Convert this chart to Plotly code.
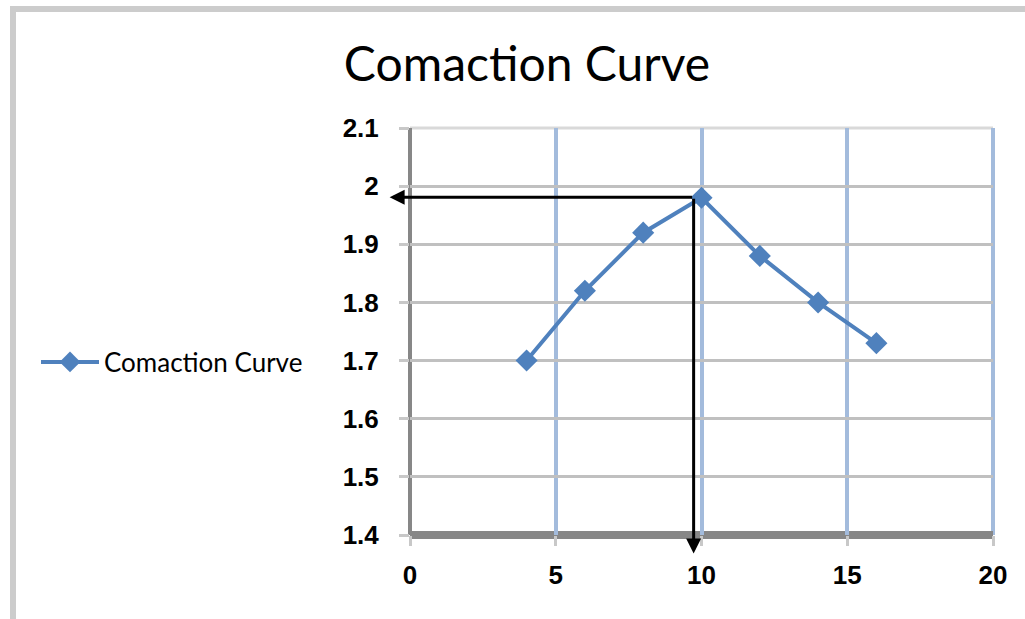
import plotly.graph_objects as go

# Compaction test results: water content (%) vs dry density
water_content = [4, 6, 8, 10, 12, 14, 16]
dry_density = [1.70, 1.82, 1.92, 1.98, 1.88, 1.80, 1.73]

# Optimum point (guide arrows)
opt_water = 9.73
max_density = 1.981

x_ticks = [0, 5, 10, 15, 20]
y_ticks = [1.4, 1.5, 1.6, 1.7, 1.8, 1.9, 2.0, 2.1]
y_tick_text = ["1.4", "1.5", "1.6", "1.7", "1.8", "1.9", "2", "2.1"]

W, H = 1025, 619
L, R, T, B = 410, 32, 128, 84
PW, PH = W - L - R, H - T - B


def px(xp):
    return (xp - L) / PW


def py(yp):
    return (H - B - yp) / PH


blue = "#4f81bd"
grid_blue = "#a3bbdc"
tick_font = dict(family="Liberation Sans", size=26, color="black", weight="bold")

fig = go.Figure()
fig.add_trace(go.Scatter(
    x=water_content, y=dry_density, mode="lines+markers",
    name="Comaction Curve",
    line=dict(color=blue, width=4),
    marker=dict(symbol="diamond", size=17, color=blue),
    cliponaxis=False,
))

# grid lines on the top and right edges of the plot area
fig.add_shape(type="line", xref="paper", yref="paper", x0=0, x1=1, y0=1, y1=1,
              line=dict(color="#d9d9d9", width=3), layer="below")
fig.add_shape(type="line", xref="paper", yref="paper", x0=1, x1=1, y0=0, y1=1,
              line=dict(color=grid_blue, width=4), layer="below")

# axis lines, centred on the plot-area edges
fig.add_shape(type="line", xref="paper", yref="paper", x0=0, x1=1, y0=0, y1=0,
              line=dict(color="#878787", width=8), layer="between")
fig.add_shape(type="line", xref="paper", yref="paper", x0=0, x1=0, y0=0, y1=1,
              line=dict(color="#878787", width=4), layer="between")

# outer chart frame (top and left edges)
fig.add_shape(type="line", xref="paper", yref="paper",
              x0=px(10), x1=px(1030), y0=py(9), y1=py(9),
              line=dict(color="#cccccc", width=6))
fig.add_shape(type="line", xref="paper", yref="paper",
              x0=px(13), x1=px(13), y0=py(6), y1=py(625),
              line=dict(color="#cccccc", width=6))

# guide arrows from the peak to each axis
fig.add_annotation(x=-0.7, y=max_density, ax=opt_water, ay=max_density,
                   xref="x", yref="y", axref="x", ayref="y", text="",
                   showarrow=True, arrowhead=2, arrowsize=1.0, arrowwidth=3,
                   arrowcolor="black", standoff=0, startstandoff=0)
fig.add_annotation(x=opt_water, y=1.368, ax=opt_water, ay=max_density,
                   xref="x", yref="y", axref="x", ayref="y", text="",
                   showarrow=True, arrowhead=2, arrowsize=1.0, arrowwidth=3,
                   arrowcolor="black", standoff=0, startstandoff=0)

fig.update_layout(
    width=W, height=H, autosize=False,
    margin=dict(l=L, r=R, t=T, b=B),
    paper_bgcolor="white", plot_bgcolor="white",
    title=dict(text="Comaction Curve", x=527 / W, xanchor="center",
               xref="container", yref="container", y=(H - 64) / H,
               yanchor="middle",
               font=dict(family="Lato", size=48, color="black")),
    showlegend=True,
    legend=dict(x=px(36), y=py(362), xanchor="left", yanchor="middle",
                xref="paper", yref="paper", bgcolor="rgba(0,0,0,0)",
                itemwidth=58,
                font=dict(family="Lato", size=26, color="black")),
    xaxis=dict(range=[0, 20], tickvals=x_ticks, showgrid=True,
               gridcolor=grid_blue, gridwidth=4, zeroline=False,
               showline=False, ticks="outside", ticklen=10,
               tickcolor="#c8c8c8", tickwidth=3, tickfont=tick_font,
               ticklabelstandoff=7),
    yaxis=dict(range=[1.4, 2.1], tickvals=y_ticks, ticktext=y_tick_text,
               showgrid=True, gridcolor="#c0c0c0", gridwidth=3,
               zeroline=False, showline=False, ticks="outside",
               ticklen=10, tickcolor="#c8c8c8", tickwidth=3,
               tickfont=tick_font, ticklabelstandoff=15),
)

fig.write_html("out.html")
